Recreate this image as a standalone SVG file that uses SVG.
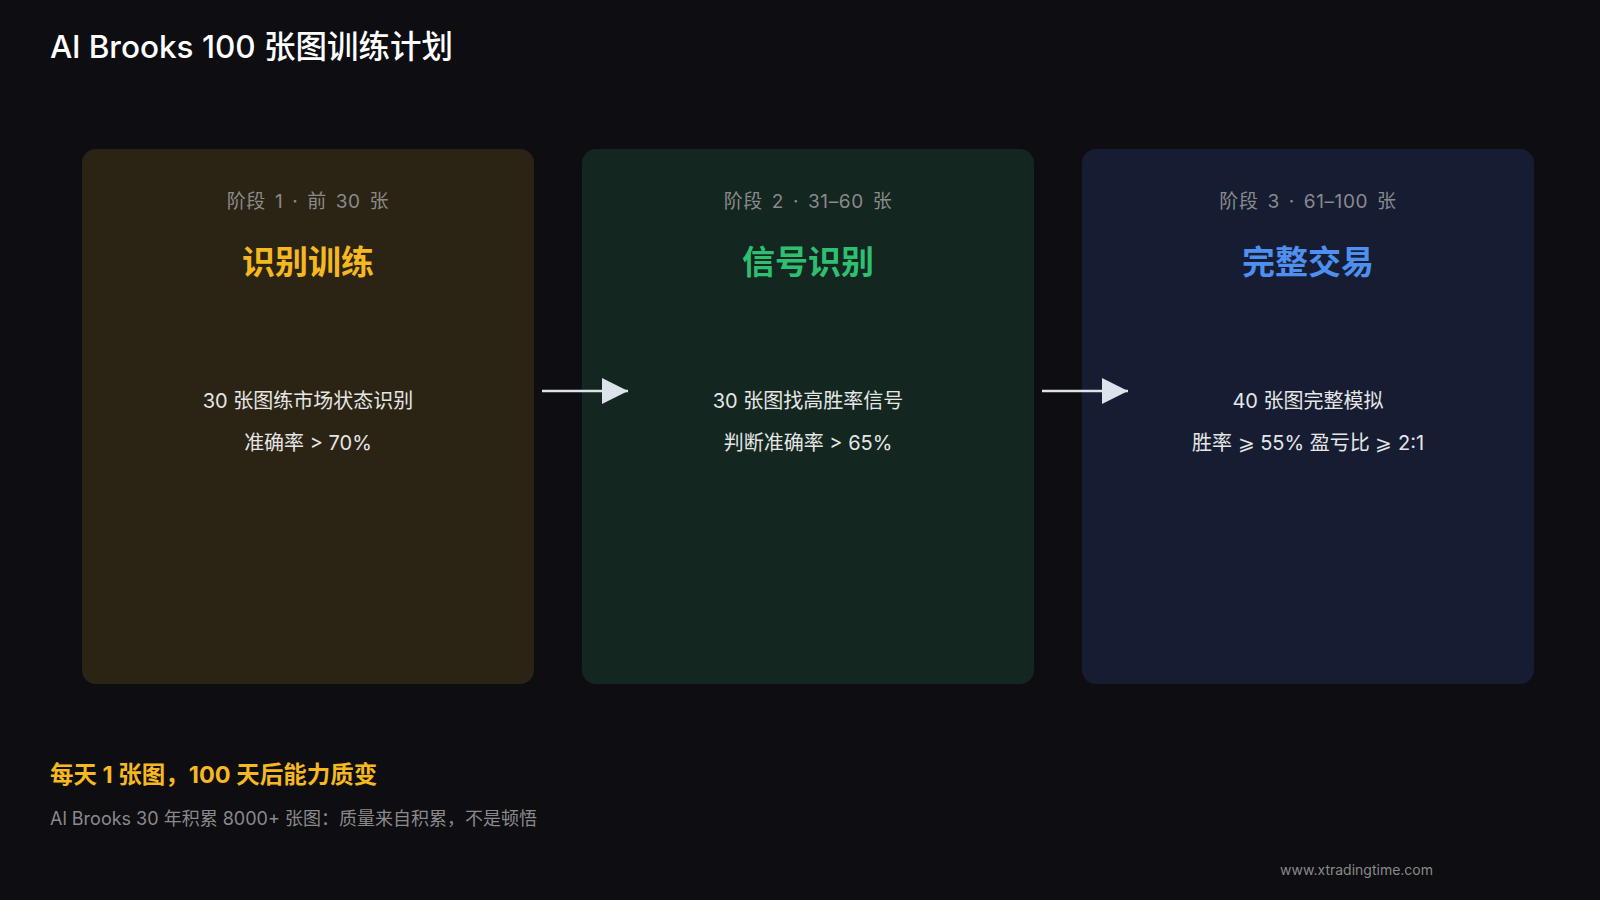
<svg xmlns="http://www.w3.org/2000/svg" width="1600" height="900" viewBox="0 0 1600 900">
<style>
text{font-family:Inter,"Noto Sans CJK SC",sans-serif}
.stage{font-size:19px;fill:#8a8a8a;text-anchor:middle;letter-spacing:0.6px;word-spacing:3px}
.head{font-size:33px;font-weight:700;text-anchor:middle}
.body{font-size:20px;fill:#e6e6e6;text-anchor:middle}
.conn{stroke:#dde3ea;stroke-width:2.5;fill:none}
</style>
<defs>
<marker id="a" viewBox="0 0 10 10" refX="10" refY="5" markerWidth="26" markerHeight="26" markerUnits="userSpaceOnUse" orient="auto"><path d="M0,0L10,5L0,10z" fill="#dde3ea"/></marker></defs>
<rect width="1600" height="900" fill="#0d0d12"/>
<text x="50" y="58" font-size="31.5" font-weight="500" fill="#ffffff">Al Brooks 100 张图训练计划</text>
<g id="stage1"><rect x="82" y="149" width="452" height="535" rx="14" fill="#2b2414"/>
<text class="stage" x="308" y="208">阶段 1 · 前 30 张</text>
<text class="head" x="308" y="274" fill="#f5b820">识别训练</text>
<text class="body" x="308" y="408">30 张图练市场状态识别</text>
<text class="body" x="308" y="450">准确率 &gt; 70%</text></g>
<g id="stage2"><rect x="582" y="149" width="452" height="535" rx="14" fill="#13261f"/>
<text class="stage" x="808" y="208">阶段 2 · 31–60 张</text>
<text class="head" x="808" y="274" fill="#2fbf71">信号识别</text>
<text class="body" x="808" y="408">30 张图找高胜率信号</text>
<text class="body" x="808" y="450">判断准确率 &gt; 65%</text></g>
<g id="stage3"><rect x="1082" y="149" width="452" height="535" rx="14" fill="#161d33"/>
<text class="stage" x="1308" y="208">阶段 3 · 61–100 张</text>
<text class="head" x="1308" y="274" fill="#4f8ff0">完整交易</text>
<text class="body" x="1308" y="408">40 张图完整模拟</text>
<text class="body" x="1308" y="450">胜率 ⩾ 55% 盈亏比 ⩾ 2:1</text></g>
<g id="connectors">
<line class="conn" x1="542" y1="391" x2="628" y2="391" marker-end="url(#a)"/>
<line class="conn" x1="1042" y1="391" x2="1128" y2="391" marker-end="url(#a)"/>
</g>
<text x="50" y="783" font-size="23.5" font-weight="700" fill="#f5b820">每天 1 张图，100 天后能力质变</text>
<text x="50" y="825" font-size="18" fill="#8a8a8a">Al Brooks 30 年积累 8000+ 张图：质量来自积累，不是顿悟</text>
<text x="1433" y="875" font-size="14" fill="#8a8a8a" text-anchor="end">www.xtradingtime.com</text>
</svg>
